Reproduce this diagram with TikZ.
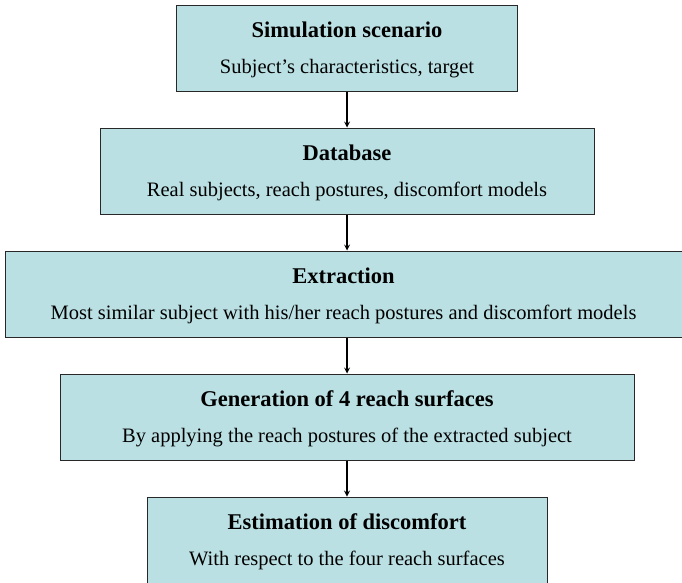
\documentclass[tikz,border=0pt]{standalone}
\usepackage{fontspec}
\setmainfont{Liberation Serif}
\usepackage{tikz}
\usetikzlibrary{arrows, positioning}

\definecolor{boxfill}{RGB}{186,224,227}
\definecolor{boxline}{RGB}{40,40,40}

\newcommand{\stagetitle}[1]{\rule{0pt}{20pt}\textbf{\fontsize{22.5}{24}\selectfont #1}}

\begin{document}
\begin{tikzpicture}[
            > = stealth, % arrow head style
            node distance = 36pt, % gap between boxes
            x = 1pt, y = 1pt,
            line width = 1.6pt % arrow line style
        ]
        \tikzstyle{stagebox}=[
            draw = boxline,
            line width = 1pt,
            fill = boxfill,
            minimum height = 86pt,
            align = center,
            font = \fontsize{20.5}{24}\selectfont
        ]
        \useasboundingbox (0,0) rectangle (682,-582);

        \node[stagebox, minimum width = 341pt] (scenario) at (347,-48)
            {\stagetitle{Simulation scenario}\\[12pt]Subject's characteristics, target};
        \node[stagebox, minimum width = 494pt] (database) [below=of scenario]
            {\stagetitle{Database}\\[12pt]Real subjects, reach postures, discomfort models};
        \node[stagebox, minimum width = 677pt] (extraction) [below=of database, xshift=-3.5pt]
            {\stagetitle{Extraction}\\[12pt]Most similar subject with his/her reach postures and discomfort models};
        \node[stagebox, minimum width = 574pt] (generation) [below=of database.south, anchor=north, yshift=-123pt]
            {\stagetitle{Generation of 4 reach surfaces}\\[12pt]By applying the reach postures of the extracted subject};
        \node[stagebox, minimum width = 400pt] (estimation) [below=of generation]
            {\stagetitle{Estimation of discomfort}\\[12pt]With respect to the four reach surfaces};

        \draw[->] (scenario) -- (database);
        \draw[->] (database) -- (database |- extraction.north);
        \draw[->] (generation |- extraction.south) -- (generation);
        \draw[->] (generation) -- (estimation);
    \end{tikzpicture}
\end{document}
